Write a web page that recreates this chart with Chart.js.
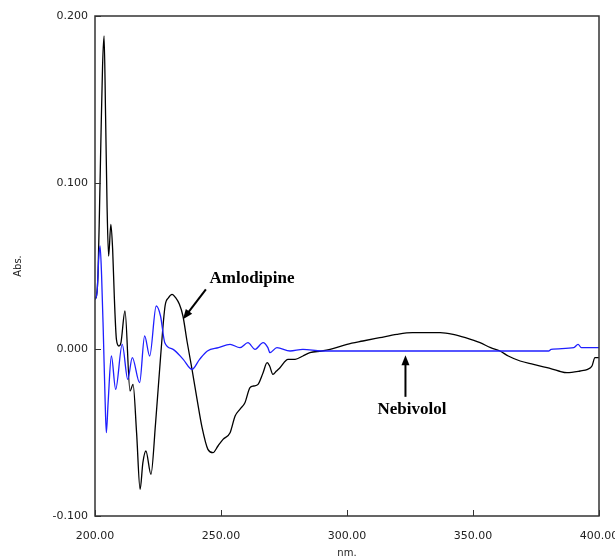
<!DOCTYPE html>
<html>
<head>
<meta charset="utf-8">
<script src="https://cdn.jsdelivr.net/npm/chart.js@4"></script>
<style>
  html, body { margin: 0; padding: 0; background: #fff; }
</style>
</head>
<body>
<canvas id="spectrum" width="615" height="556"></canvas>
<script>
// values (wavelength in nm, absorbance)
var amloNm = [200, 200.6, 201.2, 201.8, 202.4, 203.0, 203.6, 204.2, 204.8, 205.4, 206.3, 207.0, 207.7, 208.5, 209.5, 210.3, 211.9, 213.9, 215.1, 216.5, 217.9, 219.0, 220.2, 222.2, 224.0, 226.0, 227.8, 229.2, 230.6, 232.0, 233.5, 234.9, 236.5, 238.5, 240.5, 242.5, 244.8, 246.8, 248.8, 250.8, 253.6, 255.6, 257.5, 259.5, 261.5, 263.0, 264.7, 266.7, 268.3, 269.3, 270.6, 272.0, 273.4, 276.6, 279.4, 282.5, 285.3, 290, 293.3, 300, 306.3, 313, 319.8, 326, 332.9, 337, 342.1, 347, 352.8, 357, 360.7, 364, 368.7, 374, 379.4, 384, 387.3, 392.5, 395.5, 397.2, 398.4, 400];
var amloAbs = [0.030, 0.032, 0.045, 0.085, 0.130, 0.170, 0.188, 0.140, 0.085, 0.056, 0.075, 0.060, 0.030, 0.006, 0.002, 0.004, 0.023, -0.025, -0.021, -0.050, -0.084, -0.068, -0.061, -0.075, -0.045, -0.005, 0.026, 0.031, 0.033, 0.031, 0.027, 0.020, 0.005, -0.012, -0.030, -0.047, -0.060, -0.062, -0.058, -0.054, -0.050, -0.040, -0.036, -0.032, -0.023, -0.022, -0.021, -0.014, -0.008, -0.010, -0.015, -0.013, -0.011, -0.006, -0.006, -0.004, -0.002, -0.001, 0.000, 0.003, 0.005, 0.007, 0.009, 0.010, 0.010, 0.010, 0.009, 0.007, 0.004, 0.001, -0.001, -0.004, -0.007, -0.009, -0.011, -0.013, -0.014, -0.013, -0.012, -0.010, -0.005, -0.005];

var nebiNm = [200, 200.8, 201.5, 202.0, 202.6, 203.3, 204.0, 204.5, 205.2, 206.5, 208.2, 210.8, 213.0, 214.8, 217.7, 219.7, 221.7, 224.3, 226.0, 227.7, 231.0, 235.0, 238.5, 241.5, 244.6, 249, 253.6, 257.5, 260.7, 263.5, 266.7, 268.6, 269.4, 272.2, 277.4, 282.5, 290, 300, 320, 340, 360, 380, 381, 390, 391.7, 393, 400];
var nebiAbs = [0.030, 0.034, 0.055, 0.062, 0.045, 0.010, -0.030, -0.050, -0.032, -0.004, -0.024, 0.003, -0.018, -0.005, -0.020, 0.008, -0.004, 0.026, 0.020, 0.004, 0.000, -0.006, -0.012, -0.006, -0.001, 0.001, 0.003, 0.001, 0.004, 0.000, 0.004, 0.001, -0.002, 0.001, -0.001, 0.000, -0.001, -0.001, -0.001, -0.001, -0.001, -0.001, 0.000, 0.001, 0.003, 0.001, 0.001];

var xTicks = [200, 250, 300, 350, 400];
var yTicks = [-0.1, 0, 0.1, 0.2];

// labels with arrows, in data coordinates
var notes = [
  { text: 'Amlodipine', x: 262.3, y: 0.0426, from: [244.0, 0.036], to: [234.9, 0.018] },
  { text: 'Nebivolol', x: 325.8, y: -0.036, from: [323.2, -0.0285], to: [323.2, -0.0035] }
];

function points(xs, ys) {
  return xs.map(function (x, i) { return { x: x, y: ys[i] }; });
}

var framePlugin = {
  id: 'frame',
  afterDraw: function (chart) {
    var ctx = chart.ctx, a = chart.chartArea;
    var xs = chart.scales.x, ys = chart.scales.y;
    ctx.save();
    ctx.strokeStyle = '#333';
    ctx.lineWidth = 1.5;
    ctx.strokeRect(a.left, a.top, a.right - a.left, a.bottom - a.top);

    // inward ticks
    ctx.lineWidth = 1;
    ctx.beginPath();
    xTicks.forEach(function (v) {
      var px = Math.round(xs.getPixelForValue(v)) + 0.5;
      ctx.moveTo(px, a.bottom);
      ctx.lineTo(px, a.bottom - 6);
    });
    yTicks.forEach(function (v) {
      var py = Math.round(ys.getPixelForValue(v)) + 0.5;
      ctx.moveTo(a.left, py);
      ctx.lineTo(a.left + 6, py);
    });
    ctx.stroke();

    // annotations
    ctx.fillStyle = '#000';
    ctx.strokeStyle = '#000';
    ctx.font = 'bold 17px "Liberation Serif", "Times New Roman", serif';
    ctx.textAlign = 'center';
    ctx.textBaseline = 'middle';
    notes.forEach(function (n) {
      ctx.fillText(n.text, xs.getPixelForValue(n.x), ys.getPixelForValue(n.y));
      var x1 = xs.getPixelForValue(n.from[0]), y1 = ys.getPixelForValue(n.from[1]);
      var x2 = xs.getPixelForValue(n.to[0]), y2 = ys.getPixelForValue(n.to[1]);
      var ang = Math.atan2(y2 - y1, x2 - x1);
      ctx.lineWidth = 2;
      ctx.beginPath();
      ctx.moveTo(x1, y1);
      ctx.lineTo(x2 - 6 * Math.cos(ang), y2 - 6 * Math.sin(ang));
      ctx.stroke();
      ctx.beginPath();
      ctx.moveTo(x2, y2);
      ctx.lineTo(x2 - 10 * Math.cos(ang) + 4 * Math.sin(ang), y2 - 10 * Math.sin(ang) - 4 * Math.cos(ang));
      ctx.lineTo(x2 - 10 * Math.cos(ang) - 4 * Math.sin(ang), y2 - 10 * Math.sin(ang) + 4 * Math.cos(ang));
      ctx.closePath();
      ctx.fill();
    });
    ctx.restore();
  }
};

var tickFont = { family: '"DejaVu Sans", sans-serif', size: 11 };
var titleFont = { family: '"DejaVu Sans", sans-serif', size: 10 };

new Chart(document.getElementById('spectrum'), {
  type: 'line',
  data: {
    datasets: [{
      label: 'Nebivolol',
      data: points(nebiNm, nebiAbs),
      borderColor: '#1f1fff',
      borderWidth: 1.3,
      pointRadius: 0,
      fill: false,
      cubicInterpolationMode: 'monotone'
    }, {
      label: 'Amlodipine',
      data: points(amloNm, amloAbs),
      borderColor: '#000',
      borderWidth: 1.3,
      pointRadius: 0,
      fill: false,
      cubicInterpolationMode: 'monotone'
    }]
  },
  options: {
    responsive: false,
    animation: false,
    layout: { padding: { top: 16, right: 16, bottom: 0, left: 0 } },
    plugins: {
      legend: { display: false },
      tooltip: { enabled: false }
    },
    scales: {
      x: {
        type: 'linear',
        min: 200,
        max: 400,
        afterBuildTicks: function (s) { s.ticks = xTicks.map(function (v) { return { value: v }; }); },
        afterFit: function (s) { s.height = 40; s.paddingLeft = 0; s.paddingRight = 0; },
        grid: { display: false, drawTicks: false, tickLength: 0 },
        border: { display: false },
        ticks: {
          padding: 14,
          maxRotation: 0,
          color: '#222',
          font: tickFont,
          callback: function (v) { return v.toFixed(2); }
        },
        title: { display: true, text: 'nm.', color: '#222', font: titleFont, padding: { top: 0, bottom: -3 } }
      },
      y: {
        min: -0.1,
        max: 0.2,
        afterBuildTicks: function (s) { s.ticks = yTicks.map(function (v) { return { value: v }; }); },
        afterFit: function (s) { s.width = 95; },
        grid: { display: false, drawTicks: false, tickLength: 0 },
        border: { display: false },
        ticks: {
          padding: 7,
          color: '#222',
          font: tickFont,
          callback: function (v) { return v.toFixed(3); }
        },
        title: { display: true, text: 'Abs.', color: '#222', font: titleFont, padding: { top: 12, bottom: 0 } }
      }
    }
  },
  plugins: [framePlugin]
});
</script>
</body>
</html>
